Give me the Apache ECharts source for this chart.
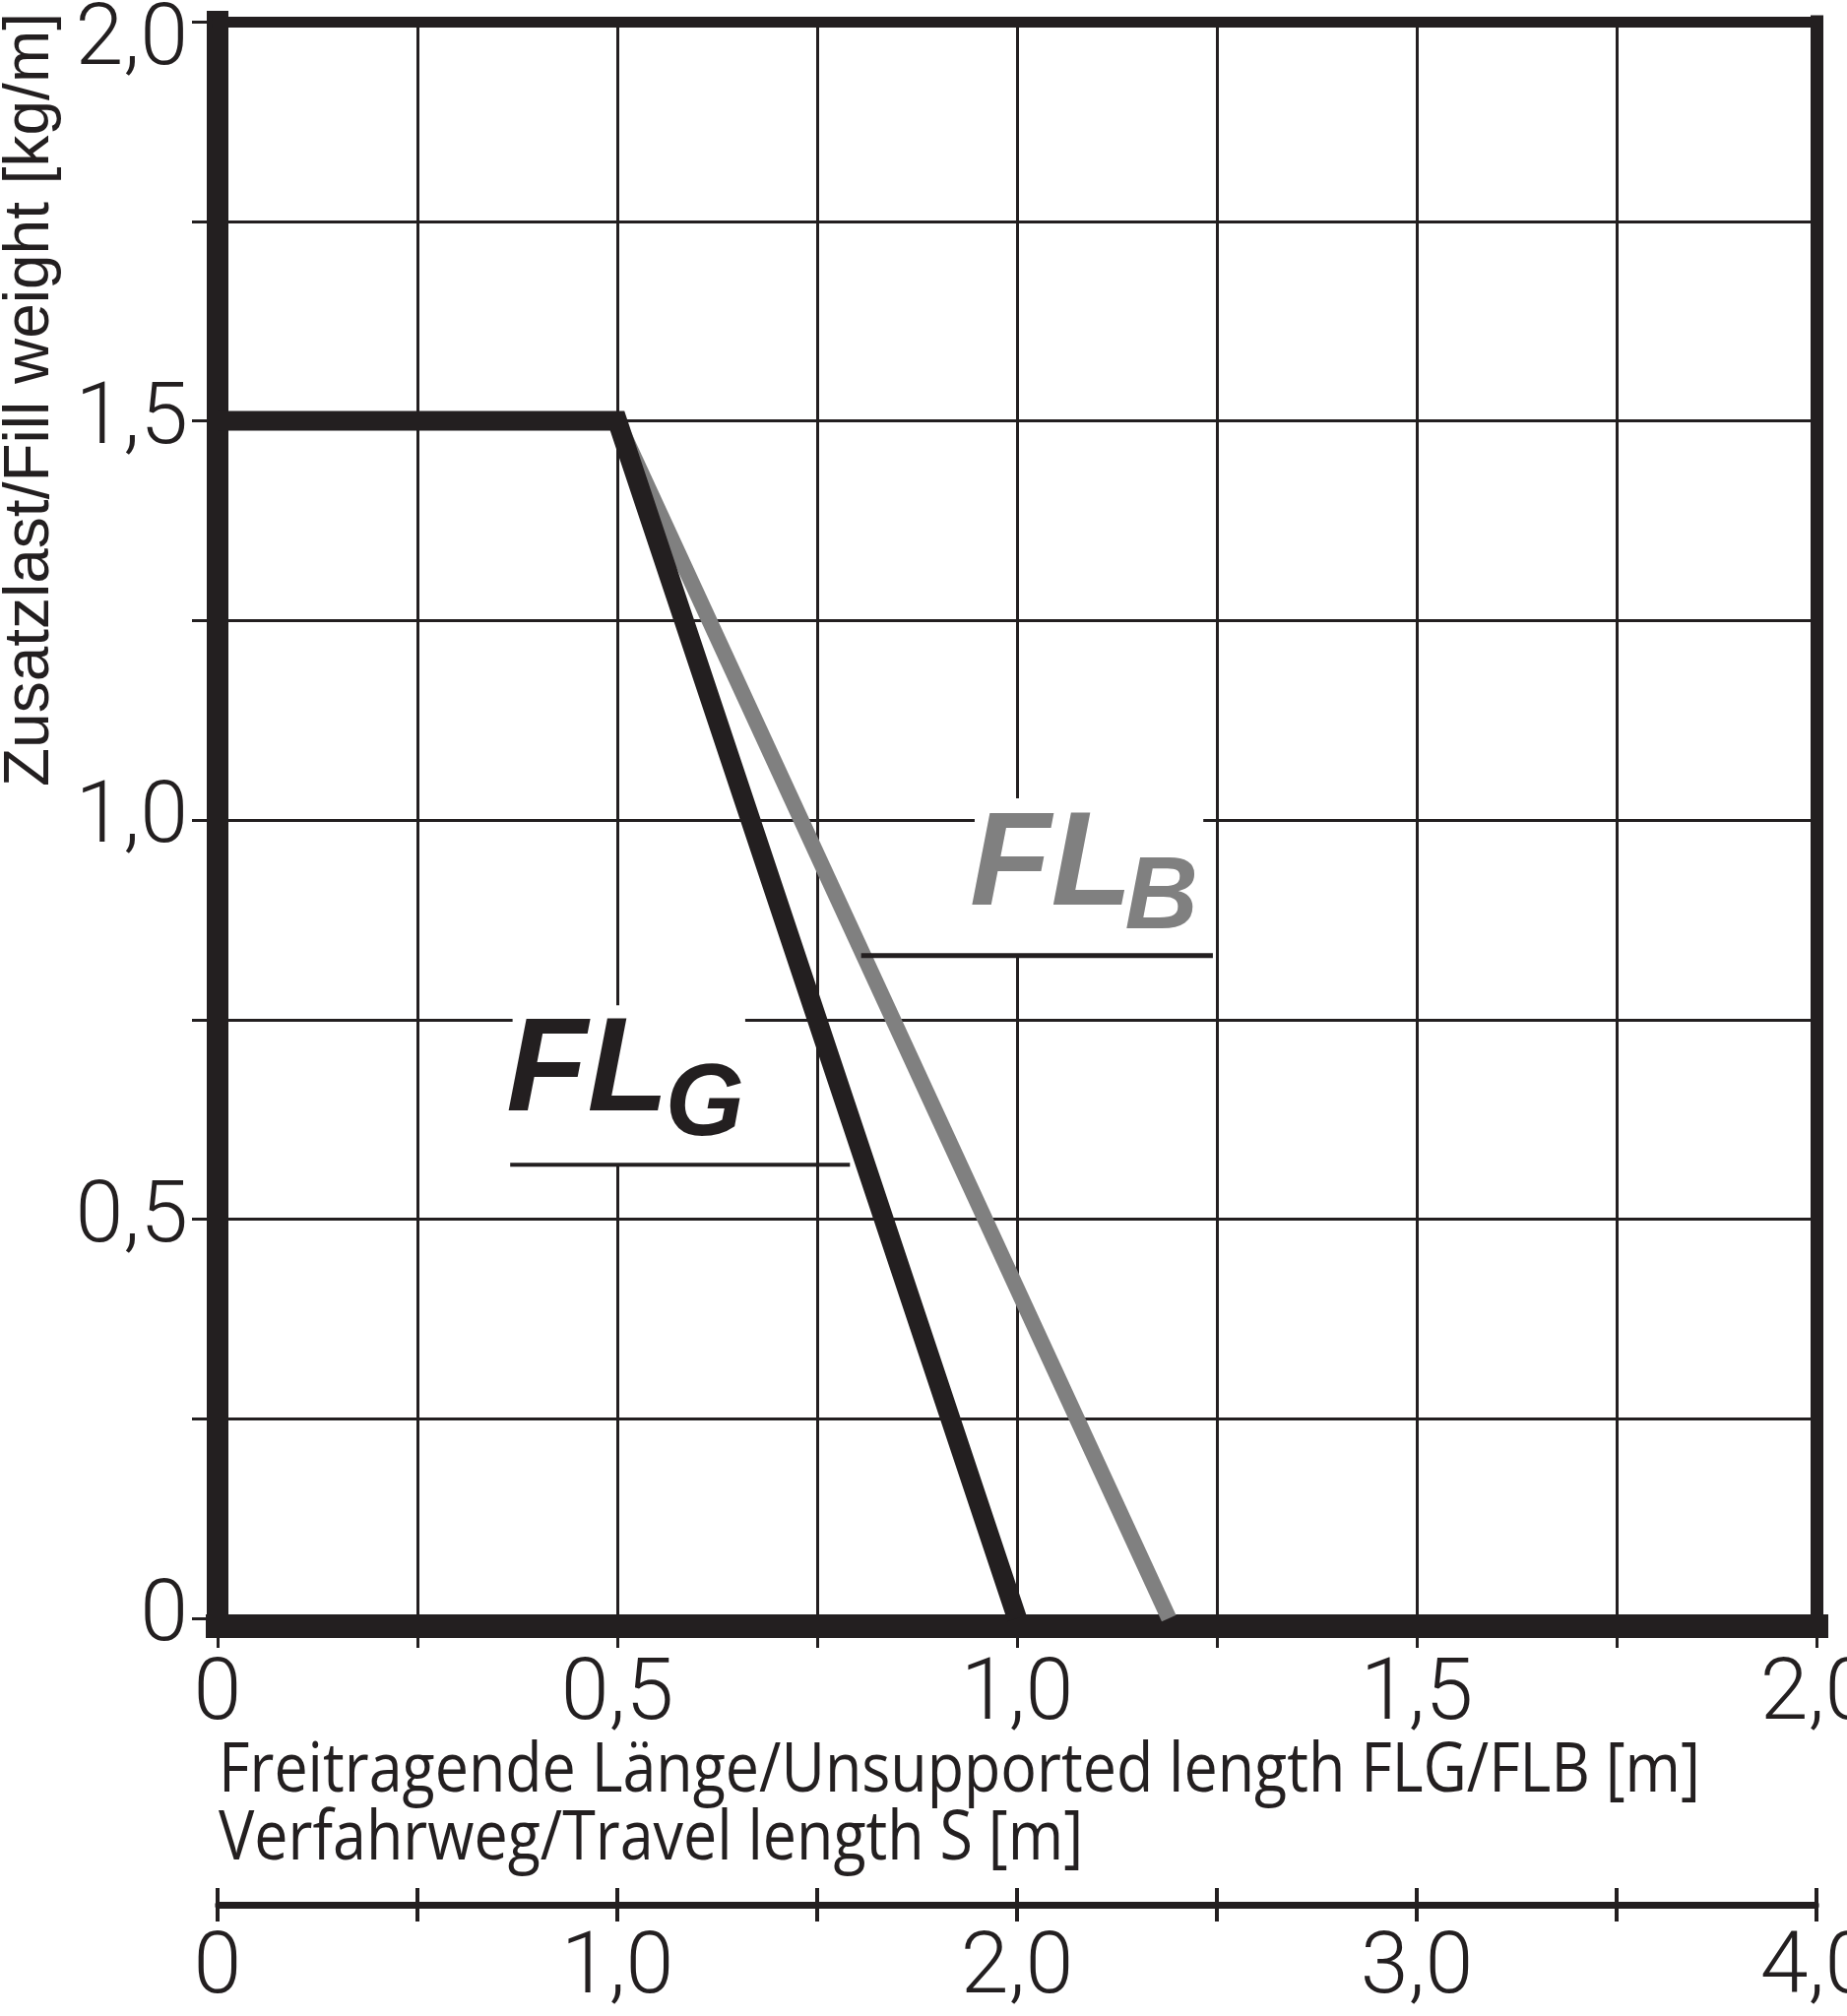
<!DOCTYPE html>
<html>
<head>
<meta charset="utf-8">
<script src="https://cdn.jsdelivr.net/npm/echarts@6/dist/echarts.min.js"></script>
<style>
html,body{margin:0;padding:0;background:#fff;overflow:hidden;}
#chart{width:1876px;height:2048px;}
</style>
</head>
<body>
<div id="chart"></div>
<script>
// ---- data ----
const flgX = [0, 0.5, 1.0];
const flgY = [1.5, 1.5, 0];
const flbX = [0.5, 1.19];
const flbY = [1.5, 0];
const mainTickLabels = ['0', '0,5', '1,0', '1,5', '2,0'];
const travelTickLabels = ['0', '1,0', '2,0', '3,0', '4,0'];
const yName = 'Zusatzlast/Fill weight [kg/m]';
const xNameLine1 = 'Freitragende Länge/Unsupported length FLG/FLB [m]';
const xNameLine2 = 'Verfahrweg/Travel length S [m]';

const INK = '#231f20';
const GREY = '#808080';
const TICKFONT = 'Roboto';

function lab(list, step) {
  return function (v) {
    const k = v / step;
    if (Math.abs(k - Math.round(k)) > 1e-6) return '';
    const s = list[Math.round(k)];
    return s === undefined ? '' : s;
  };
}

const chart = echarts.init(document.getElementById('chart'), null, {renderer: 'canvas', width: 1876, height: 2048});

const tickLabelStyle = {fontFamily: TICKFONT, fontWeight: 300, fontSize: 88, color: INK};

chart.setOption({
  backgroundColor: '#fff',
  animation: false,
  grid: [
    {left: 221, right: 31, top: 22, bottom: 404, containLabel: false, outerBoundsMode: 'none'},
    {left: 221, right: 31, top: 1934, height: 2, containLabel: false, outerBoundsMode: 'none'}
  ],
  xAxis: [
    {
      type: 'value', gridIndex: 0, position: 'bottom', min: 0, max: 2, interval: 0.25, offset: 8,
      axisLine: {show: true, onZero: false, lineStyle: {color: INK, width: 24, cap: 'square'}},
      axisTick: {show: true, length: 22, lineStyle: {color: INK, width: 3}},
      axisLabel: Object.assign({margin: 28, formatter: lab(mainTickLabels, 0.5)}, tickLabelStyle),
      splitLine: {show: true, lineStyle: {color: INK, width: 3}}
    },
    {
      type: 'value', gridIndex: 0, position: 'top', min: 0, max: 2, interval: 0.25,
      axisLine: {show: true, onZero: false, lineStyle: {color: INK, width: 11, cap: 'square'}},
      axisTick: {show: false}, axisLabel: {show: false}, splitLine: {show: false}
    },
    {
      type: 'value', gridIndex: 1, position: 'bottom', min: 0, max: 4, interval: 0.5,
      axisLine: {show: true, onZero: false, lineStyle: {color: INK, width: 5}},
      axisTick: {show: true, length: 16, lineStyle: {color: INK, width: 4}},
      axisLabel: Object.assign({margin: 22, formatter: lab(travelTickLabels, 1)}, tickLabelStyle),
      splitLine: {show: false}
    },
    {
      type: 'value', gridIndex: 1, position: 'top', min: 0, max: 4, interval: 0.5,
      axisLine: {show: true, onZero: false, lineStyle: {color: INK, width: 5}},
      axisTick: {show: true, length: 16, lineStyle: {color: INK, width: 4}},
      axisLabel: {show: false}, splitLine: {show: false}
    }
  ],
  yAxis: [
    {
      type: 'value', gridIndex: 0, position: 'left', min: 0, max: 2, interval: 0.25,
      axisLine: {show: true, onZero: false, lineStyle: {color: INK, width: 22, cap: 'square'}},
      axisTick: {show: true, length: 26, lineStyle: {color: INK, width: 3}},
      axisLabel: Object.assign({
        margin: 30,
        formatter: function (v) {
          const s = lab(mainTickLabels, 0.5)(v);
          return v === 2 ? '{top|' + s + '}' : s;
        },
        rich: {top: {fontFamily: TICKFONT, fontWeight: 300, fontSize: 88, color: INK, padding: [42, 0, 0, 0]}}
      }, tickLabelStyle),
      splitLine: {show: true, lineStyle: {color: INK, width: 3}}
    },
    {
      type: 'value', gridIndex: 0, position: 'right', min: 0, max: 2, interval: 0.25,
      axisLine: {show: true, onZero: false, lineStyle: {color: INK, width: 13, cap: 'square'}},
      axisTick: {show: false}, axisLabel: {show: false}, splitLine: {show: false}
    },
    {type: 'value', gridIndex: 1, min: 0, max: 1, show: false}
  ],
  series: [
    {
      name: 'FLB', type: 'line', xAxisIndex: 0, yAxisIndex: 0, z: 3,
      data: flbX.map((x, i) => [x, flbY[i]]),
      symbol: 'none', lineStyle: {color: GREY, width: 16, join: 'miter'}
    },
    {
      name: 'FLG', type: 'line', xAxisIndex: 0, yAxisIndex: 0, z: 4,
      data: flgX.map((x, i) => [x, flgY[i]]),
      symbol: 'none', lineStyle: {color: INK, width: 20, join: 'miter'}
    }
  ]
});

// ---- annotations (placed in data space) ----
const notes = [
  {box: [[0.947, 1.027], [1.233, 0.829]], line: [[0.805, 0.830], [1.245, 0.830]], lineW: 5,
   main: {at: [0.941, 0.940], text: 'FL', size: 135}, sub: {at: [1.135, 0.899], text: 'B', size: 103}, color: GREY},
  {box: [[0.369, 0.768], [0.660, 0.568]], line: [[0.366, 0.568], [0.791, 0.568]], lineW: 4,
   main: {at: [0.361, 0.682], text: 'FL', size: 135}, sub: {at: [0.560, 0.641], text: 'G', size: 103}, color: INK}
];

function px(p) { return chart.convertToPixel({gridIndex: 0}, p); }

const g = [];
notes.forEach(n => {
  const a = px(n.box[0]), b = px(n.box[1]);
  g.push({type: 'rect', z: 1, shape: {x: a[0], y: a[1], width: b[0] - a[0], height: b[1] - a[1]}, style: {fill: '#fff'}});
  const l0 = px(n.line[0]), l1 = px(n.line[1]);
  g.push({type: 'line', z: 5, shape: {x1: l0[0], y1: l0[1], x2: l1[0], y2: l1[1]}, style: {stroke: INK, lineWidth: n.lineW}});
  [n.main, n.sub].forEach(t => {
    const p = px(t.at);
    g.push({type: 'text', z: 5, x: p[0], y: p[1], style: {
      text: t.text, fill: n.color, font: 'italic bold ' + t.size + 'px "Liberation Sans", Arial, sans-serif',
      align: 'left', verticalAlign: 'middle'}});
  });
});

// axis title (y)
g.push({type: 'text', z: 5, x: 31, y: 406, rotation: Math.PI / 2, style: {
  text: yName, fill: INK, font: '64px "Liberation Sans", Arial, sans-serif', align: 'center', verticalAlign: 'middle'}});

// axis titles (x), narrow humanist look: Open Sans compressed to the reference line width
const XFONT = '70px "Open Sans", "Noto Sans", sans-serif';
const mctx = document.createElement('canvas').getContext('2d');
mctx.font = XFONT;
const w1 = mctx.measureText(xNameLine1).width;
const sx = 1505 / w1;
g.push({type: 'text', z: 5, x: 222, y: 1800, scaleX: sx, style: {
  text: xNameLine1, fill: INK, font: XFONT, align: 'left', verticalAlign: 'middle'}});
g.push({type: 'text', z: 5, x: 222, y: 1869, scaleX: sx, style: {
  text: xNameLine2, fill: INK, font: XFONT, align: 'left', verticalAlign: 'middle'}});

chart.setOption({graphic: {elements: g}});
</script>
</body>
</html>
